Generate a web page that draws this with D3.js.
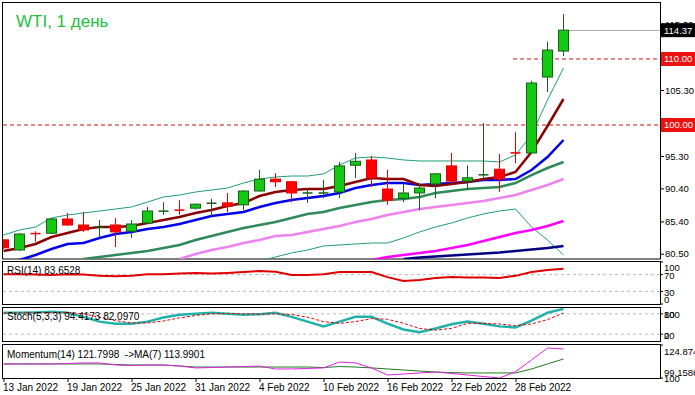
<!DOCTYPE html>
<html><head><meta charset="utf-8">
<script src="https://cdn.jsdelivr.net/npm/d3@7"></script>
<style>
body{margin:0;background:#fff;}
svg{display:block;font-family:"Liberation Sans",Arial,sans-serif;}
</style>
</head><body>
<svg id="c" width="695" height="395"></svg>
<script>
// ---------- DATA ----------
const dateLabels = ["13 Jan 2022","19 Jan 2022","25 Jan 2022","31 Jan 2022","4 Feb 2022","10 Feb 2022","16 Feb 2022","22 Feb 2022","28 Feb 2022"];
const labelIdx = [0,4,8,12,16,20,24,28,32];

const open  = [82.6,81.06,83.6,83.6,85.76,84.85,84.5,84.85,83.9,85.15,86.9,87.2,87.4,88.1,88.2,87.9,90.0,91.8,91.4,89.6,89.6,89.85,93.9,94.7,90.3,88.9,89.7,91.06,93.8,91.5,92.3,93.3,95.8,95.76,107.27,111.2];
const high  = [82.7,83.6,83.9,85.9,86.67,86.8,85.6,85.9,85.6,87.6,88.3,88.6,88.1,88.8,89.7,90.1,93.2,92.7,91.5,90.45,91.7,94.4,95.76,95.3,93.2,91.2,91.2,92.7,95.76,93.9,100.3,95.6,98.9,106.7,112.6,116.8];
const low   = [81.2,80.9,82.3,83.5,84.7,83.8,82.9,81.5,82.9,85.0,86.4,86.4,87.2,86.2,86.8,87.1,89.9,90.6,88.3,88.2,88.9,88.9,91.97,90.6,87.9,88.3,87.1,88.9,91.2,90.15,92.0,89.85,94.2,95.6,105.0,110.45];
const close = [81.4,83.48,83.5,85.76,84.85,84.1,84.55,83.8,85.0,86.97,87.0,87.0,88.0,88.2,87.7,90.0,91.8,91.4,89.7,89.8,89.8,93.8,94.5,92.0,88.6,89.7,90.45,92.6,91.5,92.0,92.6,91.8,95.75,106.36,111.36,114.37];

const maMaroon = [80.91,81.36,81.97,83.03,83.64,84.24,84.55,84.55,84.70,85.15,85.61,86.06,86.67,87.12,87.73,88.18,89.24,89.85,90.15,90.30,90.30,90.76,91.36,91.97,91.82,91.82,90.91,90.76,91.06,91.36,91.82,92.12,92.88,95.91,99.85,103.94];
const maBlue   = [79.24,79.55,80.30,81.21,81.97,82.12,82.88,83.48,83.79,84.24,84.55,85.0,85.61,86.21,86.52,86.82,87.58,88.18,88.64,88.94,89.24,89.70,90.45,90.91,91.21,91.21,90.91,91.06,91.21,91.36,91.67,91.67,91.82,93.18,95.15,97.73];
const maGreen  = [null,null,null,null,null,79.70,80.0,80.30,80.61,80.91,81.36,81.82,82.58,83.18,83.79,84.39,84.85,85.30,85.91,86.52,86.82,87.42,87.88,88.33,88.64,88.79,89.09,89.70,90.0,90.30,90.45,90.61,91.21,92.42,93.48,94.39];
const maPink   = [null,null,null,null,null,null,null,null,null,null,null,79.7,80.45,81.06,81.52,82.12,82.58,83.18,83.33,83.79,84.24,84.70,85.30,85.76,86.36,86.82,87.27,87.58,87.88,88.18,88.48,88.94,89.39,90.15,90.91,91.82];
const maMagenta= [null,null,null,null,null,null,null,null,null,null,null,null,null,null,null,null,null,null,null,null,null,null,null,79.55,80.0,80.30,80.61,80.91,81.36,81.82,82.42,83.03,83.64,84.09,84.70,85.45];
const maNavy   = [null,null,null,null,null,null,null,null,null,null,null,null,null,null,null,null,null,null,null,null,null,null,null,null,null,79.70,79.92,80.08,80.23,80.38,80.53,80.68,80.91,81.14,81.36,81.67];
const bbUpper  = [83.33,84.09,84.55,85.91,86.36,86.67,86.97,87.27,87.58,88.33,89.09,89.39,89.85,90.15,90.45,91.21,91.82,92.12,92.27,92.27,92.58,93.94,95.0,95.15,95.0,94.70,94.55,94.55,94.55,94.55,94.55,94.39,95.45,98.48,103.79,108.64];
const bbLower  = [null,null,null,null,null,null,null,null,null,null,null,null,null,null,null,null,79.39,80.0,80.61,81.06,81.67,81.82,81.97,82.12,82.12,82.88,83.79,84.55,85.15,85.91,86.52,86.97,87.27,84.55,82.58,80.30];

const rsi = [71,71,70,69,71,70,67,66,67,71,71,72.5,74,72.5,74,76,78.6,77,69,69,71,76,76,76,64,55,57,62,64,63,63,62,67,76,81,83.65];
const stochMain   = [83,83,84,86,83,71,57,51,51,57,69,77,80,83,80,77,79,83,71,57,43,57,71,71,51,34,26,37,49,57,51,43,40,60,83,94.42];
const stochSignal = [82,83,83,84,84,80,70,60,53,53,59,68,75,80,81,80,79,80,78,70,57,52,57,66,64,52,37,32,37,52,52,50,45,50,63,82.10];
const momentum = [110.1,110.1,110.1,110.1,110.5,110.9,110.9,109.3,108.9,109.3,109.3,108.5,107.0,107.3,107.7,108.1,108.5,106.2,106.2,106.6,107.0,111.6,110.9,107.0,101.5,102.3,103.1,103.8,102.7,101.5,100.3,99.16,104.0,113.2,122.5,121.8];
const momentumMA = [110.1,110.1,110.1,110.1,110.1,110.1,110.1,109.7,109.3,109.3,109.3,108.5,107.7,107.7,107.7,107.7,107.7,107.7,107.7,107.7,107.3,108.1,107.7,107.0,106.2,105.4,104.6,103.8,103.4,103.1,103.1,103.1,103.1,106.2,110.1,114.0];

const priceTicks = [80.50,85.40,90.40,95.30,105.30,115.30];
const levelLines = [100.00,110.00];
const lastPrice = 114.37;
const rsiLevels = [70,30];
const stochLevels = [80,20];
const momMin = 99.1586, momMax = 124.874;

// ---------- CHART ----------
const svg = d3.select("#c");
const n = close.length;
const x = d3.scaleLinear().domain([0, n-1]).range([3.5, 563.5]);
const y = d3.scaleLinear().domain([79.697, 118.636]).range([259, 2]);
const yR = d3.scaleLinear().domain([0,100]).range([304, 262]);
const yS = d3.scaleLinear().domain([0,100]).range([341, 307]);
const yM = d3.scaleLinear().domain([momMin, momMax]).range([378, 345]);

const defs = svg.append("defs");
function clip(id, y0, y1){
  defs.append("clipPath").attr("id", id).append("rect")
    .attr("x", 3).attr("y", y0).attr("width", 657).attr("height", y1-y0);
  return "url(#"+id+")";
}
const cMain = clip("cm", 3, 259), cR = clip("cr", 262, 304), cS = clip("cs", 308, 341), cMo = clip("cmo", 345, 378);

// frames
[[2.5,2.5,658,256.5],[2.5,261.5,658,43],[2.5,307.5,658,34],[2.5,344.5,658,34]].forEach(r=>{
  svg.append("rect").attr("x",r[0]).attr("y",r[1]).attr("width",r[2]).attr("height",r[3])
    .attr("fill","none").attr("stroke","#000").attr("stroke-width",1);
});

const gMain = svg.append("g").attr("clip-path", cMain);
const lineOf = (sc) => d3.line().defined(d => d != null).x((d,i)=>x(i)).y(d=>sc(d));

// title
svg.append("text").attr("x",16).attr("y",27).attr("font-size",17).attr("fill","#22c040").text("WTI, 1 день");

// level lines
gMain.append("line").attr("x1",3).attr("x2",660).attr("y1",y(levelLines[0])).attr("y2",y(levelLines[0]))
  .attr("stroke","#cc1111").attr("stroke-dasharray","4,3").attr("stroke-width",1);
gMain.append("line").attr("x1",513).attr("x2",660).attr("y1",y(levelLines[1])).attr("y2",y(levelLines[1]))
  .attr("stroke","#cc1111").attr("stroke-dasharray","4,3").attr("stroke-width",1);
gMain.append("line").attr("x1",x(n-1)+4).attr("x2",660).attr("y1",Math.round(y(lastPrice))+0.5).attr("y2",Math.round(y(lastPrice))+0.5)
  .attr("stroke","#b0b0b0").attr("stroke-width",1);

// indicator lines in main
const mainLines = [
  [bbLower,"#1f9e78",1],[bbUpper,"#1f9e78",1],
  [maNavy,"#000080",2.5],[maMagenta,"#ff00ff",2.5],[maPink,"#ee82ee",2.5],
  [maGreen,"#2e8b57",2.5],[maBlue,"#0000ee",2.5],[maMaroon,"#8b0000",2.5]
];
mainLines.forEach(([arr,col,w])=>{
  gMain.append("path").datum(arr).attr("d", lineOf(y)).attr("fill","none").attr("stroke",col).attr("stroke-width",w);
});

// candles
const bw = 10;
const candles = gMain.selectAll("g.cdl").data(d3.range(n)).enter().append("g");
candles.each(function(i){
  const g = d3.select(this);
  const up = close[i] >= open[i];
  const wickCol = up ? "#1a5e1a" : "#ee0000";
  g.append("line").attr("x1",x(i)).attr("x2",x(i)).attr("y1",y(high[i])).attr("y2",y(low[i]))
    .attr("stroke",wickCol).attr("stroke-width",1);
  const top = y(Math.max(open[i],close[i])), bot = y(Math.min(open[i],close[i]));
  const h = bot - top;
  if (h < 2.5) {
    g.append("line").attr("x1",x(i)-bw/2).attr("x2",x(i)+bw/2).attr("y1",(top+bot)/2).attr("y2",(top+bot)/2)
      .attr("stroke", wickCol).attr("stroke-width", 1.5);
  } else {
    g.append("rect").attr("x",x(i)-bw/2).attr("y",top).attr("width",bw).attr("height",h)
      .attr("fill", up ? "#14c814" : "#ff0000")
      .attr("stroke", up ? "#1a5e1a" : "#ee0000").attr("stroke-width",1);
  }
});

// price axis
const pa = svg.append("g").attr("transform","translate(660,0)")
  .call(d3.axisRight(y).tickValues(priceTicks).tickSize(4).tickPadding(1).tickFormat(d3.format(".2f")));
pa.select(".domain").remove();
pa.selectAll("text").attr("font-size",9.5).attr("fill","#000").attr("font-family","Liberation Sans, Arial");

function tag(v, bg){
  const yy = y(v);
  svg.append("rect").attr("x",661).attr("y",yy-7).attr("width",34).attr("height",14).attr("fill",bg);
  svg.append("text").attr("x",664).attr("y",yy+3.5).attr("font-size",9.5).attr("fill","#fff").text(d3.format(".2f")(v));
}
tag(levelLines[1], "#ee1111");
tag(levelLines[0], "#ee1111");
tag(lastPrice, "#000");

// RSI panel
const gR = svg.append("g").attr("clip-path", cR);
rsiLevels.forEach(v=>gR.append("line").attr("x1",3).attr("x2",660).attr("y1",yR(v)).attr("y2",yR(v))
  .attr("stroke","#b8b8b8").attr("stroke-dasharray","3,3"));
gR.append("path").datum(rsi).attr("d", lineOf(yR)).attr("fill","none").attr("stroke","#e00000").attr("stroke-width",2);
svg.append("text").attr("x",7).attr("y",274).attr("font-size",10).text("RSI(14) 83.6528");

// Stoch panel
const gS = svg.append("g").attr("clip-path", cS);
stochLevels.forEach(v=>gS.append("line").attr("x1",3).attr("x2",660).attr("y1",yS(v)).attr("y2",yS(v))
  .attr("stroke","#b8b8b8").attr("stroke-dasharray","3,3"));
gS.append("path").datum(stochMain).attr("d", lineOf(yS)).attr("fill","none").attr("stroke","#20b2aa").attr("stroke-width",2.5);
gS.append("path").datum(stochSignal).attr("d", lineOf(yS)).attr("fill","none").attr("stroke","#e00000").attr("stroke-width",1).attr("stroke-dasharray","3,2");
svg.append("text").attr("x",7).attr("y",320).attr("font-size",10).text("Stoch(5,3,3) 94.4173 82.0970");

// Momentum panel
const gMo = svg.append("g").attr("clip-path", cMo);
gMo.append("path").datum(momentumMA).attr("d", lineOf(yM)).attr("fill","none").attr("stroke","#1f7a1f").attr("stroke-width",1);
gMo.append("path").datum(momentum).attr("d", lineOf(yM)).attr("fill","none").attr("stroke","#e020e0").attr("stroke-width",1);
svg.append("text").attr("x",7).attr("y",358).attr("font-size",10).attr("xml:space","preserve").text("Momentum(14) 121.7998  ->MA(7) 113.9901");

// right labels for sub panels
const rl = [["100",267],["70",275],["30",292],["0",299],["100",314],["80",314],["0",335],["20",335],
            [String(momMax),351],[String(momMin),372],["100",378]];
rl.forEach(([t,yy])=>svg.append("text").attr("x",664).attr("y",yy+3.5).attr("font-size",9.5).text(t));
[yR(100),yR(70),yR(30),yR(0),yS(80),yS(20),yM(momMax),yM(momMin)].forEach(yy=>{
  svg.append("line").attr("x1",660).attr("x2",663).attr("y1",yy).attr("y2",yy).attr("stroke","#000");
});

// x axis
const xa = svg.append("g").attr("transform","translate(0,379)")
  .call(d3.axisBottom(x).tickValues(labelIdx).tickSize(3).tickPadding(2).tickFormat((d,k)=>dateLabels[k]));
xa.select(".domain").remove();
xa.selectAll("text").attr("text-anchor","start").attr("dx",-1).attr("font-size",10).attr("fill","#000").attr("font-family","Liberation Sans, Arial");
</script>
</body></html>
